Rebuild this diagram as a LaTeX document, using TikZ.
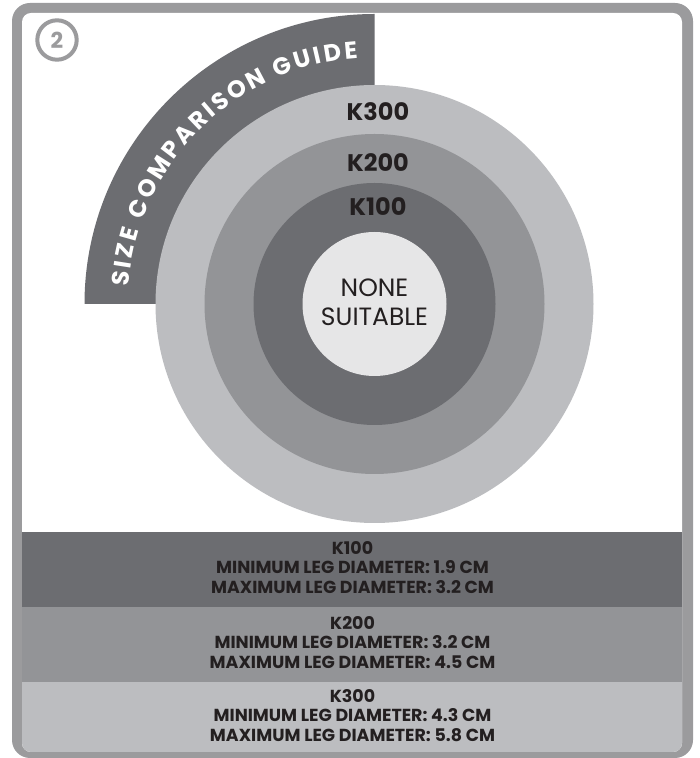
\documentclass[tikz,border=0pt]{standalone}
\usepackage{fontspec}
\setmainfont{Poppins}
\definecolor{bordergray}{HTML}{9B9B9D}
\definecolor{darkring}{HTML}{6C6D71}
\definecolor{midring}{HTML}{939497}
\definecolor{lightring}{HTML}{BCBDC0}
\definecolor{coregray}{HTML}{E6E6E7}
\definecolor{inkdark}{HTML}{231F20}
\newcommand\arcfont{\fontsize{24}{27}\selectfont\bfseries}
\newdimen\arcacc
\newcommand\arcletters{S,I,Z,E,~,C,O,M,P,A,R,I,S,O,N,~,G,U,I,D,E}
\tikzset{
  klabel/.style={font=\fontsize{24}{28}\selectfont\bfseries, text=inkdark, inner sep=0pt},
  bandtext/.style={font=\fontsize{17.4}{19.5}\selectfont\bfseries, text=inkdark, align=center, inner sep=0pt},
  arcletter/.style={font=\arcfont, text=white, inner sep=0pt, anchor=base},
}
\begin{document}
\setbox0=\hbox{\arcfont SIZE COMPARISON GUIDE}%
\xdef\natw{\the\wd0}%
\foreach \ch [count=\i] in \arcletters {%
  \setbox2=\hbox{\arcfont\ch}%
  \expandafter\xdef\csname arccw\i\endcsname{\the\wd2}%
}%
\begin{tikzpicture}[x=1pt,y=1pt]
\useasboundingbox (0,0) rectangle (700,758);
% frame
\fill[bordergray, rounded corners=18pt] (12,0) rectangle (693,755);
\begin{scope}
\path[clip, rounded corners=9pt] (22,6) rectangle (682,745);
\fill[white] (0,0) rectangle (700,758);
% bands
\fill[darkring] (22,151) rectangle (682,226);
\fill[midring] (22,76) rectangle (682,151);
\fill[lightring] (0,0) rectangle (682,76);
\end{scope}
\coordinate (c) at (374.5,454);
% quarter sector
\fill[darkring] (c) -- ++(180:290) arc (180:90:290) -- cycle;
% rings
\fill[lightring] (c) circle (219);
\fill[midring] (c) circle (170);
\fill[darkring] (c) circle (121);
\fill[coregray] (c) circle (72);
% arc title, letter by letter
\pgfmathsetmacro\track{(353.5-\natw)/20}%
\global\arcacc=0pt
\foreach \ch [count=\i] in \arcletters {%
  \edef\chw{\csname arccw\i\endcsname}%
  \edef\accw{\the\arcacc}%
  \pgfmathsetmacro\ang{176-(\accw+0.5*\chw)/246.5*180/pi}%
  \node[arcletter, rotate=\ang-90] (t\i) at ([shift={(\ang:246.5)}]c) {\ch};
  \global\advance\arcacc by \chw\relax
  \global\advance\arcacc by \track pt\relax
}
% step number
\draw[bordergray, line width=4pt] (57,718) circle (19.7);
\node[font=\fontsize{22}{24}\selectfont\bfseries, text=bordergray, inner sep=0pt] (num) at (57,718) {2};
% ring labels
\node[klabel] (k300) at (378,646) {K300};
\node[klabel] (k200) at (378,595) {K200};
\node[klabel] (k100) at (378,551) {K100};
\node[font=\fontsize{25}{29}\selectfont, text=inkdark, align=center, inner sep=0pt] (none) at (374.5,455.5) {NONE\\SUITABLE};
% band texts
\node[bandtext] (b1) at (352.5,190.5) {K100\\MINIMUM LEG DIAMETER: 1.9 CM\\MAXIMUM LEG DIAMETER: 3.2 CM};
\node[bandtext] (b2) at (352.5,115.5) {K200\\MINIMUM LEG DIAMETER: 3.2 CM\\ MAXIMUM LEG DIAMETER: 4.5 CM};
\node[bandtext] (b3) at (352.5,42.5) {K300\\MINIMUM LEG DIAMETER: 4.3 CM\\MAXIMUM LEG DIAMETER: 5.8 CM};
\end{tikzpicture}
\end{document}
